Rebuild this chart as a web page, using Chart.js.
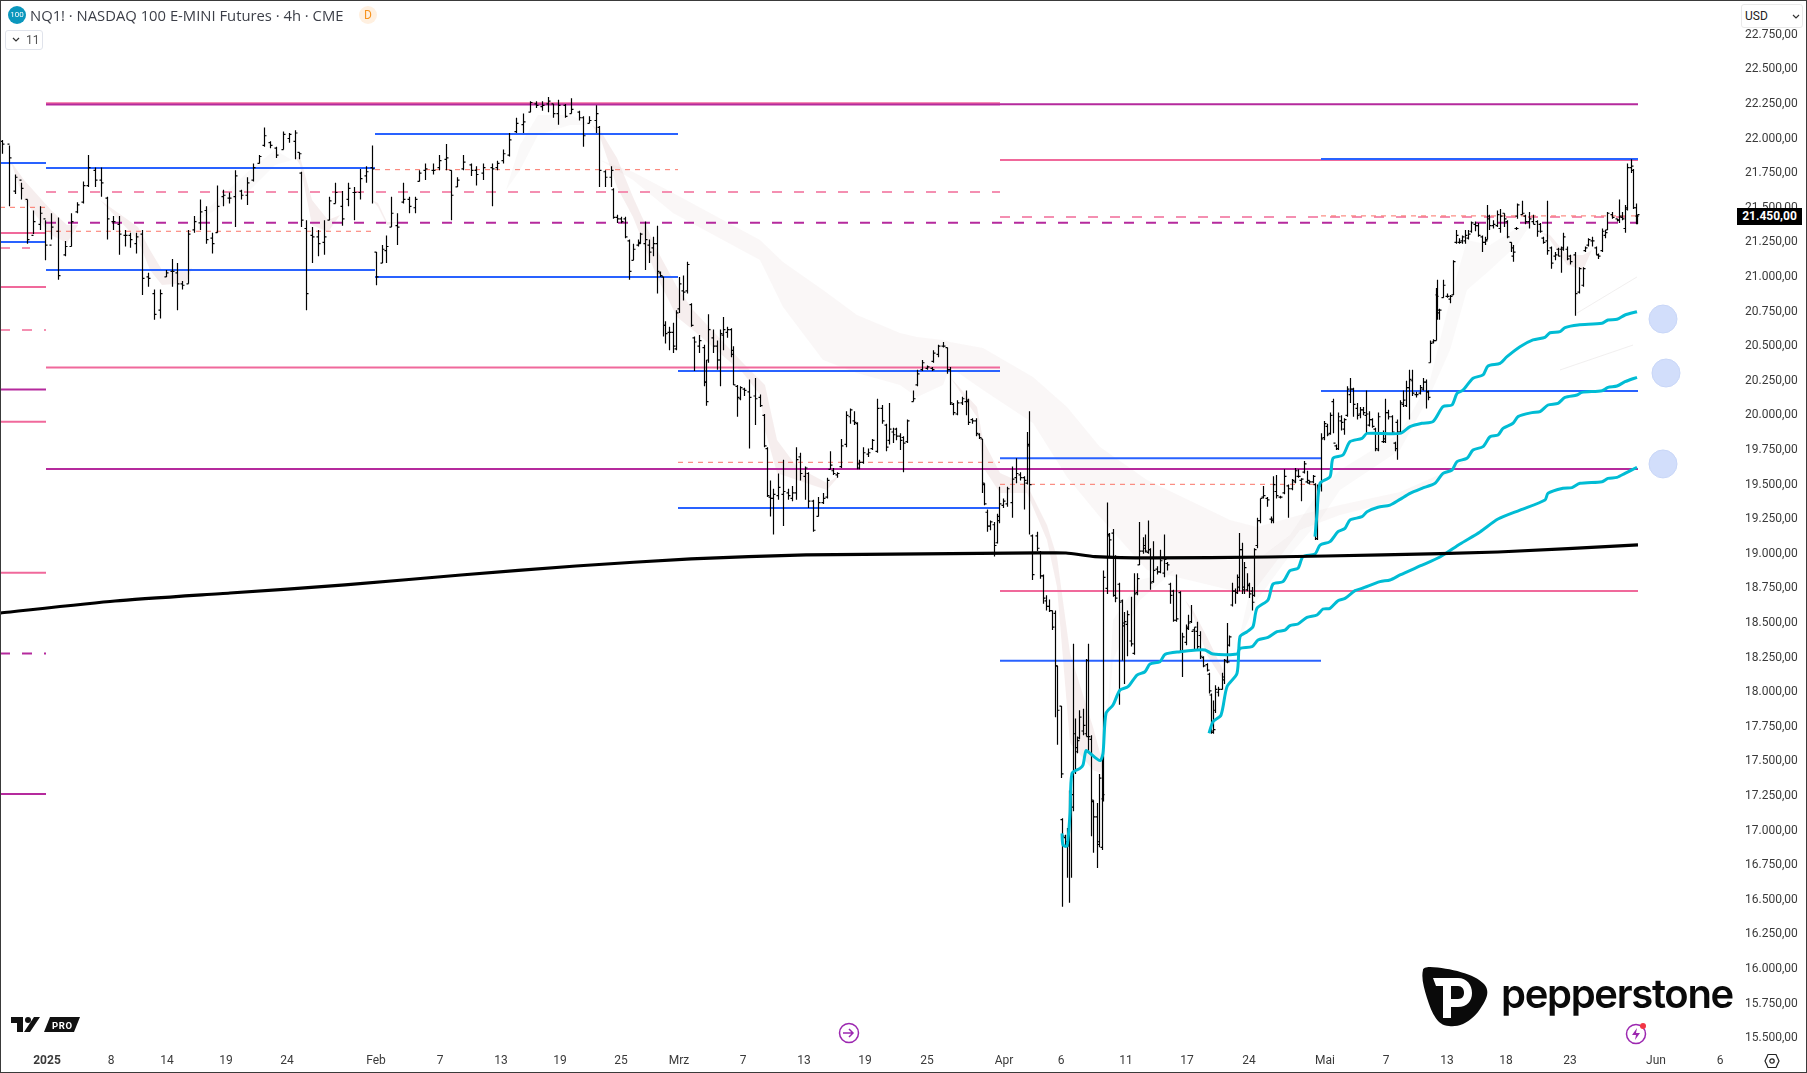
<!DOCTYPE html>
<html lang="de">
<head>
<meta charset="utf-8">
<title>NQ1! 4h</title>
<script src="https://cdn.jsdelivr.net/npm/chart.js@4"></script>
<style>
  html, body { margin: 0; padding: 0; background: #fff; }
  #wrap { position: relative; width: 1807px; height: 1073px; overflow: hidden; font-family: Roboto, sans-serif; }
  #myChart { position: absolute; left: 0; top: 0; }
  .over { position: absolute; }
  #frame { left: 0; top: 0; width: 1807px; height: 1073px; box-sizing: border-box; border: 1.5px solid #3a3a3a; pointer-events: none; }
  #title { left: 30px; top: 6px; font: 14.8px/18px "Open Sans", sans-serif; color: #3c3f48; white-space: nowrap; }
  #badge100 { left: 8px; top: 6px; width: 18px; height: 18px; border-radius: 50%; background: #0b97bd; color: #fff; font: 8px/18px Roboto, sans-serif; text-align: center; }
  #badgeD { left: 359px; top: 6px; width: 18px; height: 18px; border-radius: 50%; background: #fff0e0; color: #f7931e; font: 12px/18px Roboto, sans-serif; text-align: center; }
  #count { left: 5px; top: 30px; width: 38px; height: 20px; box-sizing: border-box; border: 1px solid #e0e3eb; border-radius: 3px; color: #555; font: 12px/18px Roboto, sans-serif; padding-left: 20px; background: #fff; }
  #usd { left: 1741px; top: 4px; width: 62px; height: 24px; box-sizing: border-box; border: 1px solid #e9e9e9; border-radius: 3px; background: #fff; color: #222; font: 12px/22px Roboto, sans-serif; padding-left: 3px; }
  #lastPrice { left: 1737px; top: 208px; width: 65px; height: 17px; background: #000; color: #fff; font: bold 12px/17px Roboto, sans-serif; text-align: center; }
  #brand { left: 1501px; top: 966px; font: 600 40px/56px Inter, sans-serif; letter-spacing: -1.3px; color: #0a0a0a; }
</style>
</head>
<body>
<div id="wrap">
  <canvas id="myChart" width="1807" height="1073"></canvas>
  <div class="over" id="badge100">100</div>
  <div class="over" id="title">NQ1! · NASDAQ 100 E-MINI Futures · 4h · CME</div>
  <div class="over" id="badgeD">D</div>
  <div class="over" id="count">11<svg style="position:absolute;left:6px;top:6px" width="8" height="6"><path d="M1 1l3 3 3-3" fill="none" stroke="#333" stroke-width="1.2"/></svg></div>
  <div class="over" id="usd">USD<svg style="position:absolute;left:50px;top:9px" width="8" height="6"><path d="M1 1l3 3 3-3" fill="none" stroke="#333" stroke-width="1.2"/></svg></div>
  <div class="over" id="lastPrice">21.450,00</div>
  <svg class="over" style="left:11px;top:1016px" width="70" height="17">
    <path d="M0 1H12V16H6V7H0Z M23 1H29L19 16H13Z M33 16L39 1H69L63 16Z" fill="#111"/>
    <circle cx="17" cy="4" r="3" fill="#111"/>
    <text x="41" y="12.5" fill="#fff" font-family="Roboto" font-weight="700" font-size="9.5" letter-spacing=".6">PRO</text>
  </svg>
  <svg class="over" style="left:838px;top:1022px" width="22" height="22">
    <circle cx="11" cy="11" r="9.5" fill="#fff" stroke="#9c27b0" stroke-width="1.5"/>
    <path d="M5 11h10M11 7l4 4-4 4" fill="none" stroke="#9c27b0" stroke-width="1.5"/>
  </svg>
  <svg class="over" style="left:1625px;top:1021px" width="24" height="24">
    <circle cx="11" cy="13" r="9.5" fill="#fff" stroke="#9c27b0" stroke-width="1.5"/>
    <path d="M12 7l-5 7h4l-1 5 5-7h-4z" fill="#9c27b0"/>
    <circle cx="18" cy="5" r="3" fill="#f23645"/>
  </svg>
  <svg class="over" style="left:1764px;top:1053px" width="16" height="16">
    <path d="M4 1.5H12L15 8 12 14.5H4L1 8Z" fill="none" stroke="#222" stroke-width="1.2"/>
    <circle cx="8" cy="8" r="2.2" fill="none" stroke="#222" stroke-width="1.2"/>
  </svg>
  <svg class="over" style="left:1420px;top:966px" width="70" height="63">
    <path d="M3 4C3 2 6 1 10 1C30 2 55 8 64 18C71 26 66 35 58 46C48 58 38 61 29 60C18 60 12 48 7 32C4 22 1 12 3 4Z" fill="#0a0a0a"/>
    <path fill-rule="evenodd" d="M13 12H38C47 12 52 19 52 27C52 35 47 41 38 41H31V52H23V20H16Z M31 20H38C42 20 44 23 44 27C44 30 42 33 38 33H31Z" fill="#fff"/>
  </svg>
  <div class="over" id="brand">pepperstone</div>
  <div class="over" id="frame"></div>
</div>
<script>
// x values are slots on the time axis, y values are index points
var tickSlots = [47,111,167,226,287,376,440,501,560,621,679,743,804,865,927,1004,1061,1126,1187,1249,1325,1386,1447,1506,1570,1656,1720];
var tickLabels = ["2025","8","14","19","24","Feb","7","13","19","25","Mrz","7","13","19","25","Apr","6","11","17","24","Mai","7","13","18","23","Jun","6"];
var boldLabels = ["2025"];
var priceTicks = [22750,22500,22250,22000,21750,21500,21250,21000,20750,20500,20250,20000,19750,19500,19250,19000,18750,18500,18250,18000,17750,17500,17250,17000,16750,16500,16250,16000,15750,15500];

var barSlots = [
  2,9,15,21,27,33,40,45,51,58,
  65,71,77,83,88,95,101,107,113,119,
  125,130,136,142,148,154,160,166,172,177,
  182,188,194,200,206,212,217,223,229,235,
  241,247,253,259,264,270,276,283,289,295,
  299,301,306,312,318,324,329,335,342,348,
  354,360,366,372,376,382,386,391,397,403,
  409,415,419,425,433,439,446,451,457,463,
  471,476,483,492,497,503,509,516,523,530,
  536,542,548,553,558,565,571,579,583,589,
  596,599,605,611,
  613,617,621,625,629,633,638,640,645,649,
  653,657,660,663,665,669,673,676,679,683,
  687,691,694,699,704,706,708,713,717,720,
  723,727,731,733,737,740,744,749,755,760,
  764,767,770,773,778,783,788,792,796,800,
  805,808,813,818,823,827,830,833,837,841,
  846,850,854,857,859,863,868,872,877,882,
  886,889,893,896,900,903,907,913,917,922,
  927,932,933,938,943,947,950,953,957,962,
  966,968,972,976,979,982,984,987,990,994,
  997,999,1003,1007,1012,1016,1020,1024,1027,1029,
  1032,1037,1040,1043,1046,1049,1052,1055,1057,1061,
  1062,1065,1067,1069,1071,1073,1075,1077,1079,1083,
  1086,1088,1091,1093,1097,1099,1102,1103,1107,1109,
  1113,1115,1119,1122,1124,1127,1131,1134,1137,1139,
  1143,1145,1148,1150,1153,1157,1160,1164,1167,1170,
  1173,1176,1180,1182,1186,1188,1191,1194,1197,1200,
  1203,1207,1209,1211,1213,1215,1218,1222,1224,1227,
  1229,1232,1235,1237,1239,1242,1244,1247,1249,1252,
  1254,1257,1260,1263,1267,1271,1273,1276,1280,1284,
  1288,1292,1295,1298,1301,1304,1307,1309,1313,1315,
  1317,1321,1324,1327,1330,1333,1336,1338,1341,1344,
  1347,1350,1353,1357,1360,1363,1366,1369,1372,1375,
  1378,1383,1385,1388,1392,1395,1397,1400,1403,1406,
  1409,1412,1416,1420,1423,1426,1428,1430,1433,1436,
  1437,1439,1443,1447,1450,1453,1456,1459,1462,1465,
  1468,1471,1475,1478,1482,1485,1487,1489,1493,1497,
  1500,1504,1507,1511,1513,1516,1517,1522,1525,1529,
  1533,1537,1540,1543,1547,1551,1555,1558,1561,1563,
  1567,1570,1575,1579,1583,1585,1588,1592,1596,1598,
  1602,1605,1607,1612,1617,1619,1622,1625,1627,1631,
  1633,1636,1637
];
var barHighs = [
  21990,21950,21740,21680,21560,21480,21510,21410,21460,21430,
  21260,21460,21540,21690,21880,21790,21790,21580,21440,21440,
  21340,21320,21320,21340,21030,20910,20910,21050,21130,21100,
  20970,21340,21440,21560,21510,21320,21660,21630,21610,21770,
  21630,21720,21820,21880,22080,21980,21940,22050,22040,22060,
  21900,21760,21410,21360,21340,21410,21580,21680,21620,21680,
  21650,21780,21800,21950,21180,21230,21300,21580,21460,21680,
  21580,21580,21770,21820,21820,21880,21960,21770,21720,21880,
  21820,21800,21820,21820,21840,21920,22040,22150,22180,22270,
  22270,22270,22300,22250,22280,22250,22290,22200,22160,22160,
  22240,22090,21770,21800,
  21640,21450,21435,21435,21270,21240,21270,21320,21400,21270,
  21290,21370,21040,21000,20680,20640,20670,20760,21000,21010,
  21110,20810,20570,20580,20510,20400,20730,20620,20540,20620,
  20710,20640,20630,20500,20220,20210,20200,20260,20270,20150,
  20010,19770,19530,19470,19580,19680,19470,19490,19770,19730,
  19630,19590,19390,19410,19440,19550,19740,19620,19590,19830,
  20030,20050,20030,19950,19680,19770,19760,19830,20120,20075,
  19940,20090,19910,19910,19870,19850,19970,20180,20330,20400,
  20360,20350,20470,20510,20530,20490,20350,20090,20110,20135,
  20180,20120,19980,19980,19870,19830,19510,19320,19240,19230,
  19290,19485,19400,19485,19630,19690,19590,19560,19880,20030,
  19140,19160,19020,18850,18700,18670,18590,18590,18190,17900,
  17090,16970,17020,17290,17290,18350,17810,17680,17870,17880,
  18240,18350,17690,17220,17200,17410,17550,18880,19370,19150,
  19180,18990,18790,18670,18580,18590,18690,18860,18860,19230,
  19120,19140,19240,19040,19090,18910,19030,19140,18940,18790,
  18740,18850,18730,18430,18490,18560,18630,18470,18510,18440,
  18260,18210,18140,17990,17940,18050,18040,18140,18240,18500,
  18410,18790,18750,18850,19150,19080,18940,18860,18790,18760,
  19040,19260,19400,19490,19410,19270,19560,19570,19420,19610,
  19500,19540,19620,19610,19545,19670,19600,19530,19570,19510,
  19500,19870,19960,19940,20020,20120,19790,20020,20000,19980,
  20210,20270,20200,20090,20060,20060,20180,20030,19980,19910,
  20020,19890,20120,20040,20000,19810,19970,20110,20180,20250,
  20330,20330,20170,20220,20270,20260,20180,20540,20550,20920,
  20980,20770,20980,20880,20870,21120,21340,21280,21300,21340,
  21340,21400,21400,21390,21300,21290,21520,21450,21410,21480,
  21490,21460,21410,21250,21230,21360,21530,21550,21450,21470,
  21450,21410,21390,21290,21550,21220,21180,21210,21220,21320,
  21220,21160,21180,21070,21070,21220,21280,21290,21220,21170,
  21350,21340,21470,21470,21420,21560,21470,21520,21820,21850,
  21780,21530,21450
];
var barLows = [
  21890,21510,21600,21560,21240,21310,21340,21120,21270,20980,
  21150,21220,21460,21530,21650,21650,21580,21270,21340,21160,
  21220,21210,21170,20870,20930,20690,20700,21000,20930,20760,
  20910,20950,21320,21340,21240,21170,21320,21510,21530,21360,
  21560,21520,21690,21820,21940,21930,21860,21920,21970,21850,
  21850,21360,20760,21100,21150,21160,21410,21530,21370,21510,
  21410,21560,21680,21530,20940,21100,21100,21360,21230,21530,
  21460,21460,21690,21700,21740,21770,21770,21410,21650,21770,
  21730,21660,21700,21510,21770,21820,21870,22040,22040,22190,
  22220,22200,22190,22150,22100,22150,22180,22130,21940,22110,
  22040,21650,21650,21650,
  21420,21390,21387,21280,20980,21120,21220,21240,21050,21100,
  21150,20880,21000,20570,20520,20470,20450,20470,20740,20830,
  20880,20640,20320,20450,20210,20070,20380,20450,20330,20210,
  20470,20560,20420,20220,19990,20110,20140,19760,19930,20060,
  19770,19410,19270,19140,19390,19200,19390,19380,19390,19530,
  19390,19330,19160,19270,19360,19400,19610,19570,19550,19620,
  19770,19940,19930,19610,19610,19650,19700,19750,19730,19940,
  19740,19790,19800,19820,19750,19590,19800,20100,20210,20320,
  20330,20320,20380,20420,20490,20300,20075,20000,20000,20075,
  20000,19930,19940,19850,19830,19440,19350,19160,19170,18980,
  19075,19220,19330,19340,19260,19510,19530,19320,19500,19140,
  18810,19020,18820,18640,18590,18580,18450,17820,17620,17380,
  16450,16880,16660,16480,16660,17140,17410,17560,17660,17690,
  17680,17560,16960,16840,16730,16880,16860,17210,18710,18980,
  18690,18650,17910,18230,18060,18260,18330,18270,18700,18920,
  19000,19010,19000,18740,18790,18850,18860,18830,18880,18640,
  18510,18510,18290,18110,18340,18450,18500,18300,18300,18240,
  18180,18150,17990,17700,17700,17850,17970,18020,18060,18210,
  18330,18620,18640,18710,18730,18710,18710,18730,18680,18590,
  18690,19040,19220,19400,19340,19220,19220,19400,19400,19430,
  19260,19460,19510,19550,19380,19580,19510,19500,19510,19100,
  19100,19450,19820,19850,19860,19870,19750,19750,19890,19860,
  19990,20090,19990,19970,19980,20000,19870,19920,19910,19740,
  19740,19800,19800,19970,19870,19740,19680,19870,20060,20060,
  19970,20140,20130,20150,20180,20050,20110,20380,20520,20540,
  20690,20690,20850,20850,20810,20870,21240,21240,21240,21240,
  21270,21320,21330,21290,21180,21230,21270,21340,21350,21360,
  21320,21360,21280,21180,21110,21340,21420,21450,21380,21350,
  21380,21290,21320,21240,21160,21060,21120,21150,21030,21190,
  21120,21090,20720,20880,20930,21180,21220,21220,21160,21130,
  21180,21280,21340,21420,21400,21390,21410,21320,21480,21750,
  21490,21380,21380
];
var barOpens = [
  21980,21960,21620,21700,21560,21300,21380,21420,21230,21330,
  21160,21220,21470,21540,21660,21770,21700,21570,21400,21380,
  21300,21300,21240,21310,21000,20880,20760,21000,21040,21030,
  20950,20950,21340,21390,21480,21280,21320,21580,21570,21580,
  21620,21590,21700,21820,21950,21970,21930,21920,22000,21980,
  21900,21750,21350,21300,21290,21250,21410,21530,21510,21560,
  21610,21610,21730,21790,21180,21100,21190,21360,21370,21540,
  21560,21500,21690,21770,21770,21790,21850,21770,21650,21780,
  21810,21770,21750,21790,21790,21840,21880,22050,22100,22190,
  22250,22230,22250,22250,22180,22240,22180,22190,22150,22110,
  22130,22080,21760,21720,
  21630,21430,21420,21420,21260,21120,21230,21250,21240,21230,
  21210,21240,21030,21000,20650,20600,20600,20480,20770,20900,
  20900,20800,20560,20500,20490,20240,20400,20560,20500,20400,
  20580,20600,20620,20440,20210,20120,20190,20170,20140,20130,
  20000,19760,19410,19400,19420,19430,19440,19400,19440,19700,
  19560,19580,19380,19270,19370,19410,19610,19600,19570,19630,
  19790,19990,19960,19940,19650,19660,19720,19760,19740,20050,
  19930,19820,19880,19900,19850,19840,19810,20100,20220,20330,
  20340,20340,20390,20440,20500,20490,20330,20080,20010,20090,
  20100,20100,19970,19960,19860,19830,19500,19300,19200,19210,
  19080,19240,19350,19360,19370,19550,19570,19550,19510,19790,
  19130,19130,19010,18840,18660,18620,18590,18570,18190,17900,
  17080,16950,16920,16900,17260,17170,17430,17570,17670,17720,
  17700,17680,17660,17210,17100,16900,16880,17230,18750,19130,
  19150,18980,18780,18660,18500,18490,18370,18280,18720,18920,
  19020,19040,19010,19030,18800,18890,18870,18860,18930,18780,
  18730,18520,18720,18300,18360,18470,18510,18450,18440,18410,
  18250,18200,18130,17980,17720,17870,18000,18020,18090,18220,
  18340,18630,18730,18720,18760,19030,18740,18740,18770,18730,
  18700,19060,19240,19410,19400,19250,19240,19450,19410,19440,
  19490,19470,19520,19560,19530,19590,19520,19510,19520,19500,
  19110,19490,19840,19920,19870,20100,19780,19760,19960,19900,
  20000,20150,20190,20050,20010,20040,20000,19930,19970,19900,
  19750,19810,19810,20020,19990,19800,19950,19880,20080,20070,
  20200,20250,20150,20160,20190,20240,20170,20380,20530,20540,
  20870,20740,20850,20860,20840,20870,21250,21250,21260,21260,
  21280,21330,21380,21370,21290,21250,21270,21420,21370,21370,
  21350,21460,21400,21250,21150,21350,21440,21450,21440,21400,
  21400,21400,21380,21280,21260,21210,21150,21200,21200,21200,
  21200,21150,21160,20890,20940,21190,21230,21260,21210,21160,
  21190,21300,21340,21450,21420,21410,21430,21350,21490,21790,
  21770,21500,21440
];
var barCloses = [
  21960,21860,21720,21640,21270,21400,21460,21230,21360,21010,
  21220,21400,21520,21660,21790,21700,21680,21420,21400,21310,
  21300,21270,21290,20990,20990,20730,20880,21030,21040,20950,
  20940,21310,21400,21470,21270,21240,21510,21590,21570,21730,
  21590,21680,21790,21870,22020,21950,21880,22030,22030,22040,
  21890,21410,20880,21290,21240,21290,21550,21610,21420,21640,
  21610,21710,21760,21780,21000,21200,21220,21460,21360,21560,
  21510,21560,21750,21780,21770,21840,21860,21590,21700,21830,
  21770,21740,21790,21780,21820,21890,21990,22110,22120,22260,
  22240,22240,22270,22180,22240,22160,22210,22150,22020,22130,
  22180,21770,21720,21770,
  21430,21420,21400,21290,21040,21200,21240,21310,21270,21180,
  21240,21040,21010,20650,20590,20600,20500,20740,20950,20890,
  21090,20650,20530,20540,20240,20100,20620,20500,20400,20590,
  20620,20620,20470,20220,20130,20200,20180,20130,20120,20070,
  19780,19420,19400,19430,19480,19450,19420,19440,19680,19580,
  19620,19380,19170,19370,19400,19530,19640,19580,19580,19780,
  20000,20040,19950,19620,19660,19730,19730,19820,20050,19960,
  19770,19900,19860,19850,19820,19800,19960,20120,20300,20380,
  20350,20330,20450,20500,20500,20330,20090,20020,20090,20120,
  20110,19950,19960,19870,19840,19510,19360,19200,19230,19060,
  19270,19360,19380,19470,19540,19580,19550,19530,19780,19500,
  18850,19040,18840,18680,18620,18590,18470,18190,17870,17410,
  16960,16920,16890,17270,17260,17700,17600,17650,17820,17760,
  18230,17680,17220,17100,16920,17380,17260,18830,19140,19100,
  18700,18680,18650,18480,18510,18560,18350,18710,18820,19020,
  19060,19020,19030,18790,18880,18870,18950,18960,18920,18700,
  18520,18530,18300,18400,18460,18500,18440,18470,18330,18260,
  18190,18160,18010,17710,17730,18020,18020,18110,18230,18220,
  18400,18730,18720,18830,19030,18760,18900,18780,18710,18650,
  19030,19240,19400,19420,19390,19250,19500,19420,19410,19560,
  19470,19530,19600,19560,19540,19650,19530,19520,19560,19110,
  19480,19830,19940,19860,20000,19800,19760,19990,19950,19970,
  20190,20190,20080,20000,20040,20020,20010,19970,19920,19760,
  19990,19830,20020,19990,19880,19760,19880,20090,20110,20200,
  20260,20160,20150,20200,20240,20170,20130,20520,20540,20860,
  20760,20760,20940,20860,20860,21110,21300,21250,21290,21300,
  21310,21390,21370,21300,21250,21260,21440,21370,21380,21450,
  21440,21420,21290,21210,21180,21350,21520,21460,21400,21420,
  21380,21330,21330,21250,21190,21100,21160,21150,21210,21290,
  21130,21110,20880,21060,21060,21210,21270,21260,21160,21150,
  21330,21320,21460,21430,21410,21440,21420,21500,21790,21800,
  21500,21440,21450
];

// long moving average
var emaSlots = [0,115,230,345,461,576,691,806,922,1037,1066,1095,1152,1268,1383,1498,1638];
var emaValues = [18572,18659,18717,18775,18847,18912,18963,18992,18999,19006,19006,18980,18970,18977,18992,19013,19064];

// anchored lines
var vwapASlots = [1062,1063,1067,1070,1072,1080,1083,1086,1090,1100,1103,1106,1113,1120,1128,1137,1145,1150,1160,1165,1180,1197,1205,1213,1237,1240,1252,1258,1268,1277,1285,1290,1298,1307,1317,1323,1330,1338,1345,1355,1362,1380,1390,1400,1420,1440,1460,1480,1498,1520,1545,1548,1563,1572,1580,1602,1608,1617,1625,1637];
var vwapAValues = [16981,16896,16889,17125,17414,17450,17474,17578,17559,17506,17559,17847,17908,18016,18040,18124,18148,18204,18221,18274,18293,18305,18305,18276,18276,18317,18329,18377,18396,18437,18449,18481,18493,18541,18558,18601,18606,18661,18678,18734,18750,18799,18811,18847,18912,18977,19071,19158,19251,19316,19389,19437,19473,19478,19509,19521,19545,19552,19581,19625];
var vwapBSlots = [1209,1213,1221,1227,1237,1240,1247,1253,1257,1268,1273,1283,1290,1298,1303,1315,1320,1330,1338,1345,1350,1362,1367,1378,1390,1400,1410,1422,1435,1443,1452,1457,1467,1473,1483,1490,1498,1503,1513,1518,1532,1540,1548,1558,1565,1577,1582,1602,1608,1617,1625,1637];
var vwapBValues = [17703,17787,17835,18040,18136,18401,18437,18474,18606,18666,18782,18799,18878,18895,18979,18998,19063,19088,19160,19184,19244,19268,19304,19336,19352,19393,19437,19473,19509,19581,19605,19666,19690,19750,19774,19846,19858,19906,19943,19991,20020,20027,20075,20087,20130,20147,20166,20178,20202,20212,20243,20275];
var vwapCSlots = [1315,1317,1320,1330,1333,1343,1350,1362,1367,1400,1410,1422,1433,1443,1452,1457,1463,1473,1483,1488,1500,1507,1520,1533,1545,1550,1560,1565,1578,1602,1608,1617,1625,1637];
var vwapCValues = [19124,19292,19509,19557,19690,19714,19810,19834,19870,19870,19918,19943,19955,20063,20075,20159,20183,20268,20292,20357,20376,20424,20496,20545,20564,20597,20605,20634,20653,20665,20689,20694,20725,20749];

// moving average ribbons, upper and lower edge
var fastSlots = [5,12,24,51,67,78,100,138,150,162,186,192,295,300,312,328,340,372,378,387,400,592,600,617,633,657,677,693,743,760,765,777,797,827,840,950,977,983,1000,1027,1047,1057,1070,1093,1100,1105,1185,1193,1207,1223,1229,1540,1550,1567,1583,1592];
var fastUpper = [21823,21823,21700,21484,21375,21375,21556,21361,21195,21050,21050,21064,21866,21866,21556,21411,21447,21556,21534,21397,21397,22098,22061,21859,21577,21195,20927,20761,20378,20255,20219,19822,19627,19511,19569,20277,20060,19822,19584,19497,19208,18977,18283,17749,17561,17532,18666,18594,18399,18160,18377,21325,21303,21158,21158,21195];
var fastLower = [21823,21809,21556,21303,21245,21375,21556,21267,21050,20942,20956,21064,21866,21809,21375,21325,21447,21556,21505,21375,21397,22098,22011,21650,21433,21000,20710,20617,20306,20147,19894,19584,19533,19461,19569,20277,19988,19627,19439,19439,19100,18760,17633,17438,17416,17532,18666,18558,18269,18088,18377,21325,21267,21086,21050,21195];
var slowSlots = [600,633,673,760,783,823,857,900,917,943,950,983,1033,1067,1100,1147,1230,1257,1300,1340,1400,1450,1480];
var slowUpper = [21845,21758,21606,21267,21108,20906,20725,20595,20566,20544,20530,20487,20277,20060,19771,19533,19244,19194,19280,19352,19446,19605,19750];
var slowLower = [21845,21700,21462,21122,20783,20400,20306,20219,20133,20219,20349,20183,19945,19555,19266,18883,18738,18760,19172,19280,19389,19584,19750];
var midSlots = [190,250,275,292,506,520,538,570,592,1105,1113,1140,1175,1237,1257,1290,1320,1340,1400,1430,1450,1467,1490,1517,1530];
var midUpper = [21375,21772,21917,21845,21628,21953,22170,22170,22098,17532,18522,18810,18883,18327,18955,19136,19461,19605,19873,20255,20833,21267,21231,21353,21375];
var midLower = [21375,21628,21809,21845,21628,21772,22025,22098,22098,17532,18232,18666,18883,18327,18666,18991,19244,19461,19750,20147,20472,20906,21050,21231,21375];
var paleASlots = [1577,1637];
var paleAValues = [20739,21000];
var paleBSlots = [1560,1633];
var paleBValues = [20328,20508];

// horizontal levels: from slot, to slot, price
var blueLevels = [[0,46,21823],[46,375,21787],[375,678,22033],[46,375,21050],[375,678,21000],[0,46,21252],[678,1000,20320],[678,1000,19331],[1000,1321,19691],[1000,1321,18228],[1321,1638,21852],[1321,1638,20176]];
var pinkLevels = [[46,1000,22255],[0,46,21317],[0,46,20927],[0,46,19954],[0,46,18863],[46,1000,20345],[1000,1638,21845],[1000,1638,18731]];
var purpleLevels = [[46,1000,22245],[1000,1638,22247],[46,1638,19613],[0,46,20187],[0,46,17264]];
var pinkDashLevels = [[46,1000,21614],[1000,1638,21433],[0,30,21209],[0,46,20617]];
var purpleDashLevels = [[46,1638,21392],[0,46,18280]];
var coralDashLevels = [[0,46,21503],[46,375,21330],[375,678,21775],[678,1000,19661],[1000,1321,19502],[1321,1638,21441]];

// alert bubbles right of the last bar
var bubbleSlots = [1663,1666,1663];
var bubbleValues = [20696,20306,19649];

function pairUp(xs, ys) {
  return xs.map(function (x, i) { return { x: x, y: ys[i] }; });
}

// every bar is a short open tick, a high-low stroke and a short close tick
// half a slot keeps the thin strokes on the pixel grid
var wickPoints = [], openPoints = [], closePoints = [];
barSlots.forEach(function (slot, i) {
  var x = slot + 0.5;
  wickPoints.push({ x: x, y: barLows[i] }, { x: x, y: barHighs[i] }, { x: x, y: null });
  openPoints.push({ x: x - 2, y: barOpens[i] }, { x: x, y: barOpens[i] }, { x: x, y: null });
  closePoints.push({ x: x, y: barCloses[i] }, { x: x + 2, y: barCloses[i] }, { x: x, y: null });
});

var datasets = [];

function addBand(xs, upper, lower, color) {
  datasets.push({ type: "line", data: pairUp(xs, upper), borderWidth: 0, pointRadius: 0, fill: "+1", backgroundColor: color, order: 9 });
  datasets.push({ type: "line", data: pairUp(xs, lower), borderWidth: 0, pointRadius: 0, fill: false, order: 9 });
}
addBand(slowSlots, slowUpper, slowLower, "rgba(205,180,175,0.10)");
addBand(midSlots, midUpper, midLower, "rgba(190,175,175,0.08)");
addBand(fastSlots, fastUpper, fastLower, "rgba(185,125,125,0.13)");

function addLevels(levels, color, width, dash) {
  levels.forEach(function (lv) {
    datasets.push({
      type: "line",
      data: [{ x: lv[0], y: lv[2] }, { x: lv[1], y: lv[2] }],
      borderColor: color,
      borderWidth: width,
      borderDash: dash || [],
      pointRadius: 0,
      order: 5
    });
  });
}
// same order: the dataset added first ends up on top
addLevels(blueLevels, "#2962ff", 2);
addLevels(purpleLevels, "#b52a9d", 2);
addLevels(purpleDashLevels, "#b52a9d", 2, [10, 12]);
addLevels(coralDashLevels, "#fb7568", 1, [5, 5]);
addLevels(pinkDashLevels, "#f48fb1", 2, [10, 12]);
addLevels(pinkLevels, "#f0699b", 2);

[wickPoints, openPoints, closePoints].forEach(function (pts) {
  datasets.push({ type: "line", data: pts, borderColor: "#000", borderWidth: 1.2, pointRadius: 0, spanGaps: false, order: 3 });
});

datasets.push({ type: "line", data: pairUp(paleASlots, paleAValues), borderColor: "rgba(200,190,190,0.25)", borderWidth: 1, pointRadius: 0, order: 8 });
datasets.push({ type: "line", data: pairUp(paleBSlots, paleBValues), borderColor: "rgba(200,190,190,0.25)", borderWidth: 1, pointRadius: 0, order: 8 });
datasets.push({ type: "line", data: pairUp(emaSlots, emaValues), borderColor: "#000", borderWidth: 3.2, pointRadius: 0, tension: 0.2, order: 2 });
[[vwapASlots, vwapAValues], [vwapBSlots, vwapBValues], [vwapCSlots, vwapCValues]].forEach(function (v) {
  datasets.push({ type: "line", data: pairUp(v[0], v[1]), borderColor: "#00bcd4", borderWidth: 3, pointRadius: 0, tension: 0.25, order: 2 });
});
datasets.push({
  type: "line",
  data: pairUp(bubbleSlots, bubbleValues),
  showLine: false,
  pointRadius: 14,
  pointBackgroundColor: "#d2defb",
  pointBorderColor: "#c8d6f7",
  pointBorderWidth: 1,
  order: 1
});

var priceFormat = new Intl.NumberFormat("de-DE", { minimumFractionDigits: 2, maximumFractionDigits: 2 });

// no extra room for the first and last tick label, the plot fills the window
function dropLabelPadding(scale) {
  scale.paddingLeft = 0;
  scale.paddingRight = 0;
  scale.paddingTop = 0;
  scale.paddingBottom = 0;
}

var myChart = new Chart(document.getElementById("myChart").getContext("2d"), {
  data: { datasets: datasets },
  options: {
    responsive: false,
    animation: false,
    events: [],
    layout: { padding: 0, autoPadding: false },
    plugins: { legend: { display: false }, tooltip: { enabled: false } },
    scales: {
      x: {
        type: "linear",
        min: 0,
        max: 1740,
        grid: { display: false, drawTicks: false },
        border: { display: false },
        afterBuildTicks: function (scale) {
          scale.ticks = tickSlots.map(function (v) { return { value: v }; });
        },
        afterFit: function (scale) { scale.height = 25; dropLabelPadding(scale); },
        ticks: {
          autoSkip: false,
          maxRotation: 0,
          padding: 6,
          color: "#3a3a3a",
          font: function (ctx) {
            var label = tickLabels[ctx.index];
            return { family: "Roboto", size: 12, weight: boldLabels.indexOf(label) >= 0 ? "bold" : "normal" };
          },
          callback: function (value, index) { return tickLabels[index]; }
        }
      },
      y: {
        type: "linear",
        position: "right",
        min: 15430,
        max: 23000.6,
        grid: { display: false, drawTicks: false },
        border: { display: false },
        afterBuildTicks: function (scale) {
          scale.ticks = priceTicks.map(function (v) { return { value: v }; });
        },
        afterFit: function (scale) { scale.width = 67; dropLabelPadding(scale); },
        ticks: {
          autoSkip: false,
          padding: 5,
          color: "#3a3a3a",
          font: { family: "Roboto", size: 12 },
          callback: function (value) { return priceFormat.format(value); }
        }
      }
    }
  }
});
</script>
</body>
</html>
